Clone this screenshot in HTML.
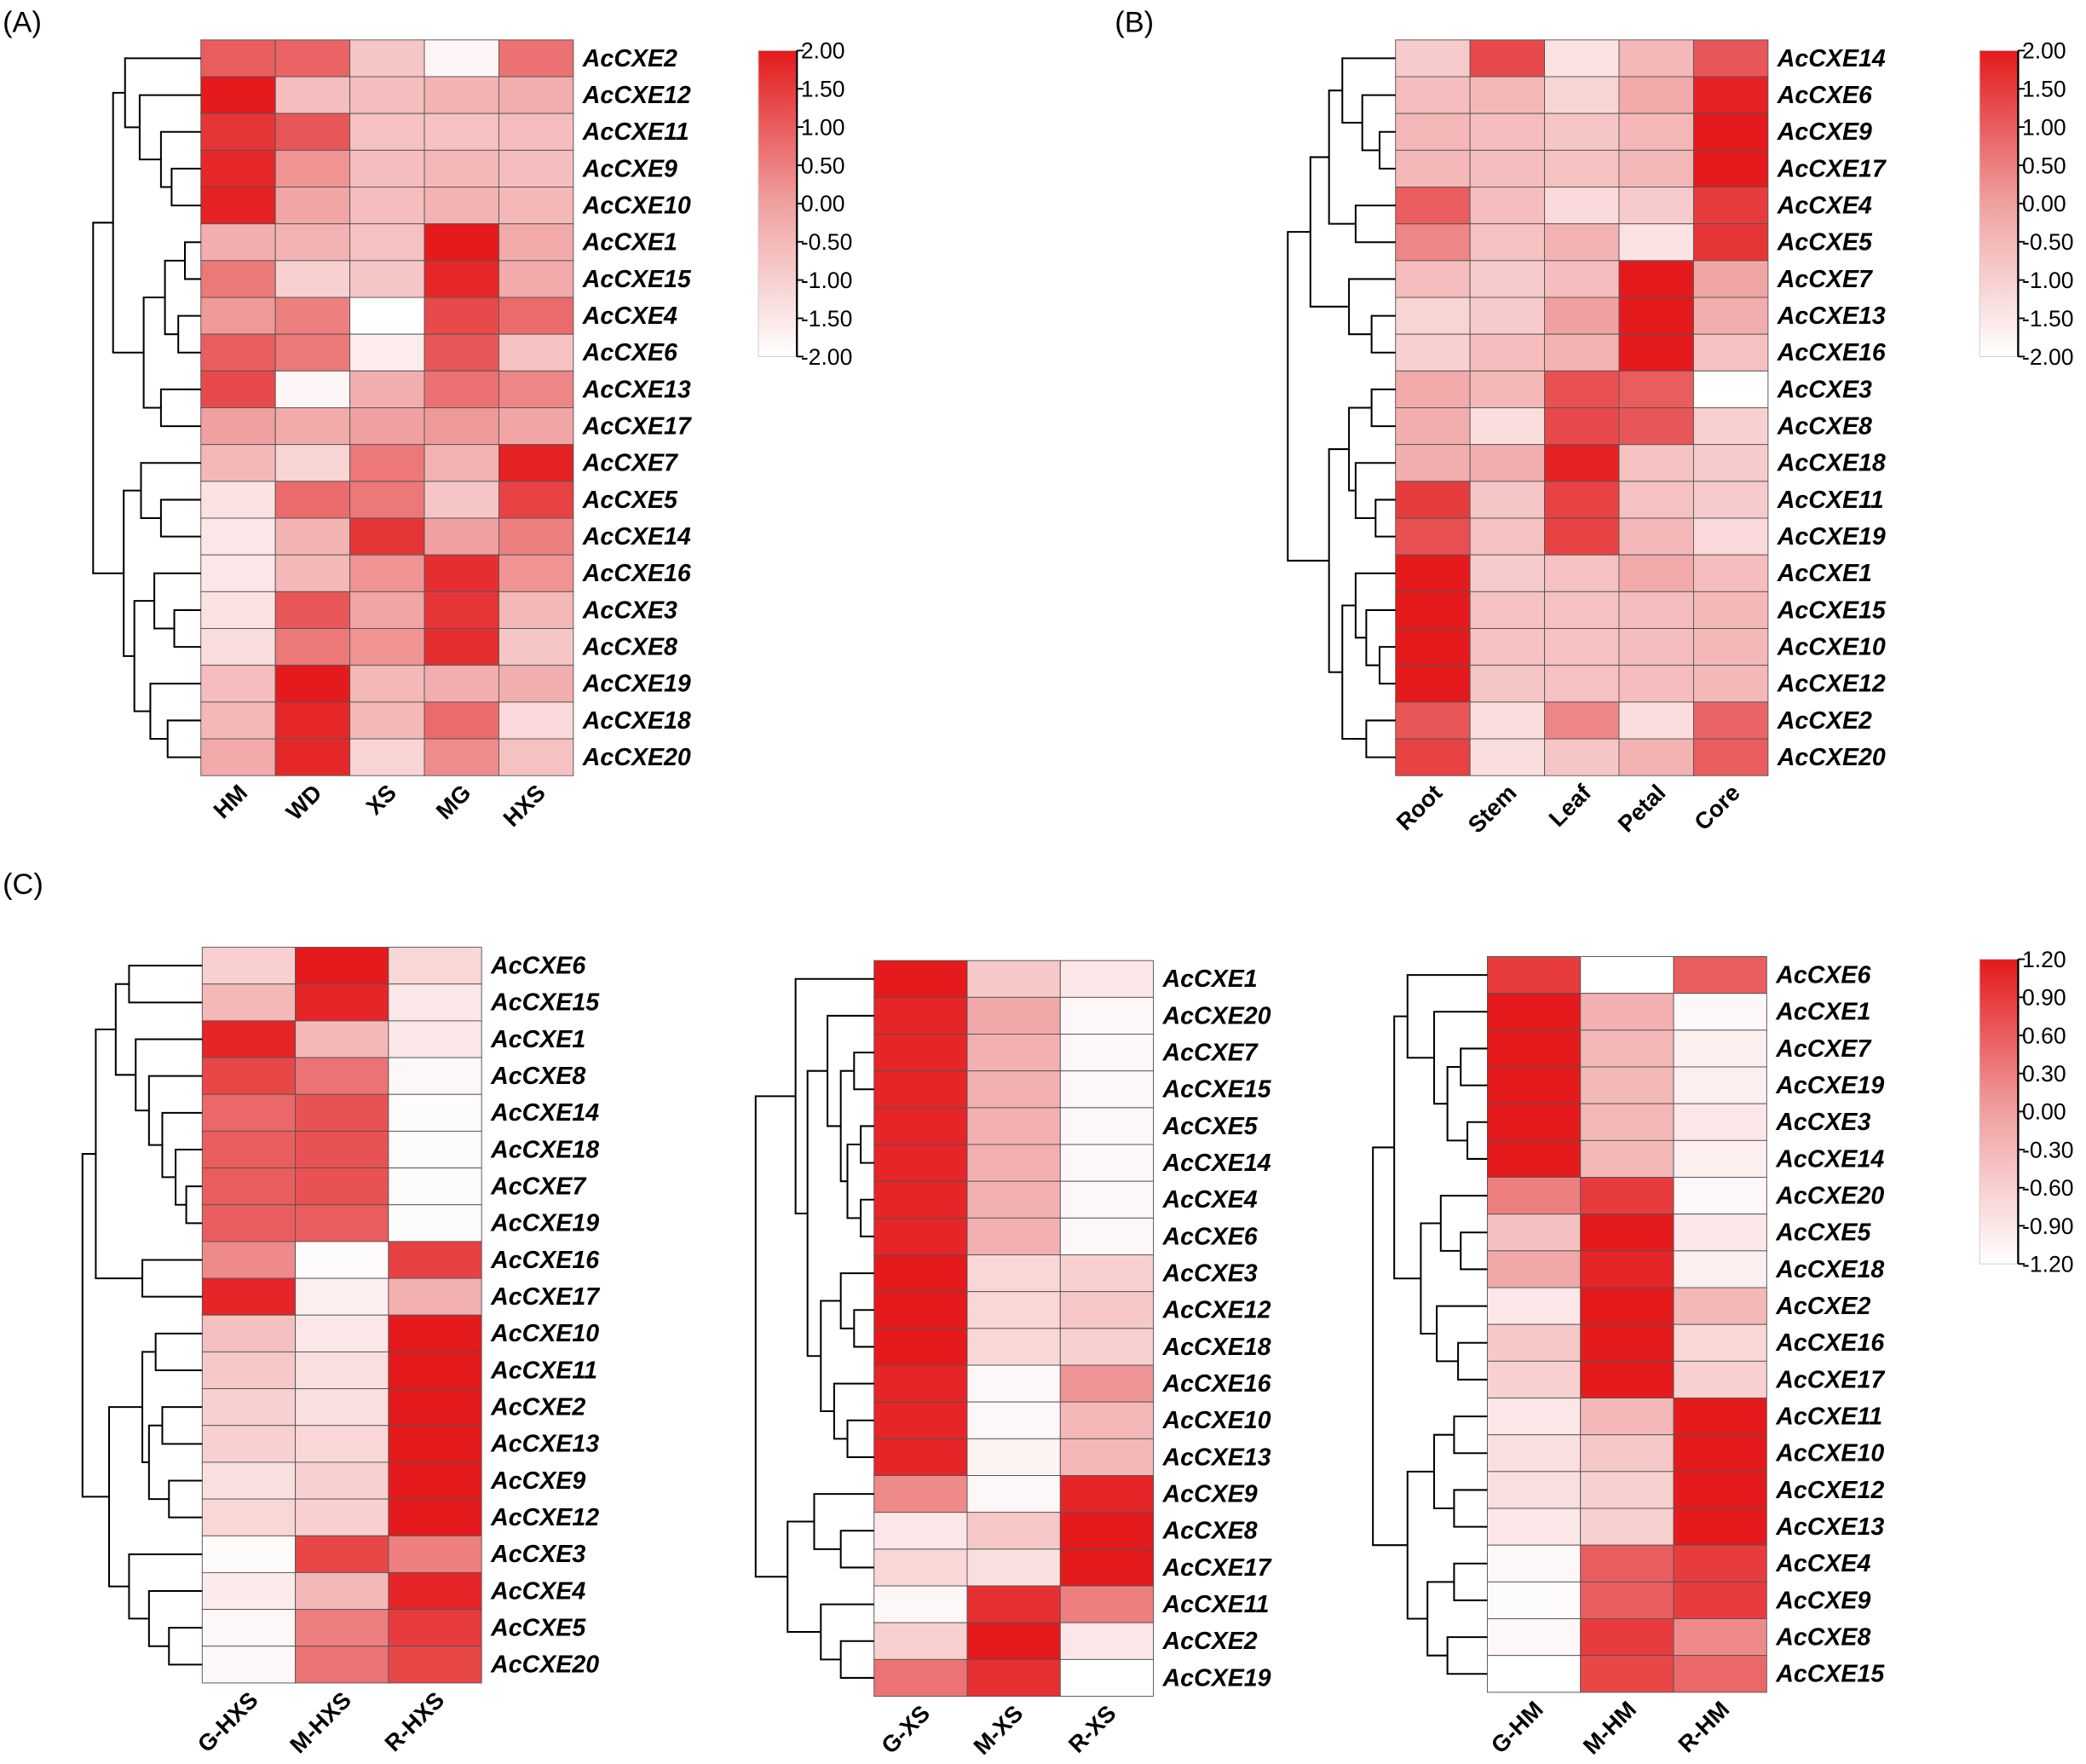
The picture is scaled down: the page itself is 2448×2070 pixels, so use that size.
<!DOCTYPE html>
<html><head><meta charset="utf-8"><title>AcCXE heatmaps</title>
<style>
html,body{margin:0;padding:0;background:#fff;}
svg{display:block;}
text{font-family:"Liberation Sans",Arial,sans-serif;}
</style></head>
<body>
<svg id="fig" width="2448" height="2070" viewBox="0 0 1568 1325.9" preserveAspectRatio="none" xmlns="http://www.w3.org/2000/svg"></svg>
<script>
// ---- Panel A data ----
const rowsA = ["AcCXE2","AcCXE12","AcCXE11","AcCXE9","AcCXE10","AcCXE1","AcCXE15","AcCXE4","AcCXE6","AcCXE13","AcCXE17","AcCXE7","AcCXE5","AcCXE14","AcCXE16","AcCXE3","AcCXE8","AcCXE19","AcCXE18","AcCXE20"];
const colsA = ["HM","WD","XS","MG","HXS"];
const valsA = [
[1.0,0.9,-0.8,-1.8,0.7],[2.0,-0.6,-0.6,-0.4,-0.3],[1.6,1.1,-0.7,-0.7,-0.6],[1.8,0.2,-0.6,-0.5,-0.6],[1.9,-0.1,-0.6,-0.4,-0.5],
[-0.3,-0.4,-0.7,2.0,-0.2],[0.6,-1.0,-0.8,1.8,-0.2],[0.1,0.5,-2.0,1.3,0.8],[1.0,0.6,-1.6,1.1,-0.7],[1.3,-1.8,-0.3,0.7,0.4],
[0.0,-0.2,0.0,0.1,-0.1],[-0.5,-1.1,0.6,-0.4,1.9],[-1.4,0.8,0.6,-0.8,1.4],[-1.5,-0.4,1.6,0.0,0.5],[-1.5,-0.5,0.2,1.7,0.2],
[-1.4,1.1,-0.1,1.6,-0.5],[-1.3,0.6,0.2,1.7,-0.8],[-0.6,2.0,-0.5,-0.3,-0.3],[-0.5,1.8,-0.5,0.8,-1.2],[-0.2,1.8,-1.1,0.3,-0.7]];
// ---- Panel B data ----
const rowsB = ["AcCXE14","AcCXE6","AcCXE9","AcCXE17","AcCXE4","AcCXE5","AcCXE7","AcCXE13","AcCXE16","AcCXE3","AcCXE8","AcCXE18","AcCXE11","AcCXE19","AcCXE1","AcCXE15","AcCXE10","AcCXE12","AcCXE2","AcCXE20"];
const colsB = ["Root","Stem","Leaf","Petal","Core"];
const valsB = [
[-0.9,1.3,-1.4,-0.5,1.1],[-0.6,-0.5,-1.1,-0.2,1.9],[-0.5,-0.6,-0.8,-0.5,2.0],[-0.5,-0.6,-0.7,-0.5,2.0],[1.0,-0.6,-1.2,-0.9,1.5],
[0.4,-0.7,-0.4,-1.4,1.6],[-0.6,-0.9,-0.6,2.0,-0.1],[-1.1,-0.9,0.0,2.0,-0.3],[-1.0,-0.6,-0.4,2.0,-0.7],[-0.2,-0.5,1.2,1.0,-2.0],
[-0.3,-1.3,1.3,1.1,-1.0],[-0.3,-0.3,1.9,-0.7,-0.9],[1.5,-0.8,1.4,-0.7,-0.9],[1.2,-0.7,1.4,-0.5,-1.2],[2.0,-0.9,-0.7,-0.2,-0.6],
[2.0,-0.7,-0.7,-0.6,-0.5],[2.0,-0.7,-0.7,-0.6,-0.5],[2.0,-0.8,-0.7,-0.6,-0.5],[1.1,-1.3,0.4,-1.3,0.9],[1.4,-1.3,-0.8,-0.4,1.0]];
// ---- Panel C1 data ----
const rowsC1 = ["AcCXE6","AcCXE15","AcCXE1","AcCXE8","AcCXE14","AcCXE18","AcCXE7","AcCXE19","AcCXE16","AcCXE17","AcCXE10","AcCXE11","AcCXE2","AcCXE13","AcCXE9","AcCXE12","AcCXE3","AcCXE4","AcCXE5","AcCXE20"];
const colsC1 = ["G-HXS","M-HXS","R-HXS"];
const valsC1 = [
[-0.6,1.2,-0.7],[-0.3,1.1,-0.9],[1.1,-0.3,-0.9],[0.8,0.4,-1.1],[0.5,0.7,-1.15],[0.6,0.7,-1.15],[0.6,0.7,-1.15],[0.6,0.6,-1.15],
[0.2,-1.15,0.85],[1.1,-1.0,-0.2],[-0.4,-0.9,1.2],[-0.5,-0.8,1.2],[-0.6,-0.8,1.2],[-0.6,-0.7,1.2],[-0.8,-0.6,1.2],[-0.7,-0.6,1.2],
[-1.15,0.8,0.3],[-0.95,-0.3,1.1],[-1.1,0.3,0.9],[-1.1,0.4,0.8]];
// ---- Panel C2 data ----
const rowsC2 = ["AcCXE1","AcCXE20","AcCXE7","AcCXE15","AcCXE5","AcCXE14","AcCXE4","AcCXE6","AcCXE3","AcCXE12","AcCXE18","AcCXE16","AcCXE10","AcCXE13","AcCXE9","AcCXE8","AcCXE17","AcCXE11","AcCXE2","AcCXE19"];
const colsC2 = ["G-XS","M-XS","R-XS"];
const valsC2 = [
[1.2,-0.5,-0.9],[1.1,-0.1,-1.1],[1.1,-0.2,-1.1],[1.1,-0.2,-1.1],[1.1,-0.2,-1.1],[1.1,-0.2,-1.1],[1.1,-0.2,-1.1],[1.1,-0.2,-1.1],
[1.2,-0.7,-0.6],[1.2,-0.7,-0.5],[1.2,-0.7,-0.6],[1.1,-1.1,0.1],[1.1,-1.1,-0.3],[1.1,-1.05,-0.3],[0.2,-1.1,1.1],[-0.9,-0.5,1.2],
[-0.7,-0.8,1.2],[-1.1,1.0,0.3],[-0.6,1.2,-0.9],[0.4,1.0,-1.2]];
// ---- Panel C3 data ----
const rowsC3 = ["AcCXE6","AcCXE1","AcCXE7","AcCXE19","AcCXE3","AcCXE14","AcCXE20","AcCXE5","AcCXE18","AcCXE2","AcCXE16","AcCXE17","AcCXE11","AcCXE10","AcCXE12","AcCXE13","AcCXE4","AcCXE9","AcCXE8","AcCXE15"];
const colsC3 = ["G-HM","M-HM","R-HM"];
const valsC3 = [
[0.9,-1.2,0.6],[1.2,-0.2,-1.1],[1.2,-0.3,-1.0],[1.2,-0.3,-1.0],[1.2,-0.3,-0.9],[1.2,-0.3,-1.0],[0.3,0.9,-1.1],[-0.4,1.2,-0.9],
[-0.1,1.1,-1.0],[-0.9,1.2,-0.3],[-0.5,1.2,-0.7],[-0.6,1.2,-0.6],[-0.9,-0.3,1.2],[-0.8,-0.5,1.2],[-0.8,-0.6,1.2],[-0.9,-0.6,1.2],
[-1.1,0.6,0.9],[-1.15,0.6,0.9],[-1.1,0.9,0.2],[-1.2,0.8,0.5]];
// colorbar ticks
const ticksAB = [2.00,1.50,1.00,0.50,0.00,-0.50,-1.00,-1.50,-2.00];
const ticksC = [1.20,0.90,0.60,0.30,0.00,-0.30,-0.60,-0.90,-1.20];
// dendrograms: [height, left, right] or leaf index
const treeA = [81,[66,[57,0,[46,1,[30,2,[22,3,4]]]],[43,[27,[12,5,6],[17,7,8]],[30,9,10]]],[58,[45,11,[30,12,13]],[50,[35,14,[20,15,16]],[38,17,[25,18,19]]]]];
const treeB = [81,[64,[50,[40,0,[25,1,[12,2,3]]],[30,4,5]],[35,6,[18,7,8]]],[50,[35,[18,9,10],[30,11,[15,12,13]]],[40,[30,14,[22,15,[12,16,17]]],[22,18,19]]]];
const treeC1 = [90,[80,[65,[55,0,1],[50,2,[40,3,[30,4,[20,5,[12,6,7]]]]]],[45,8,9]],[70,[45,[35,10,11],[40,[30,12,13],[25,14,15]]],[55,16,[40,17,[25,18,19]]]]];
const treeC2 = [89,[59,0,[50,[35,1,[25,[15,2,3],[20,[10,4,5],[10,6,7]]]],[40,[25,8,[15,9,10]],[30,11,[20,12,13]]]]],[65,[45,14,[25,15,16]],[40,17,[25,18,19]]]];
const treeC3 = [86,[70,[60,0,[40,1,[30,[20,2,3],[15,4,5]]]],[50,[35,6,[20,7,8]],[38,9,[22,10,11]]]],[60,[40,[25,12,13],[25,14,15]],[45,[25,16,17],[30,18,19]]]];

const NS="http://www.w3.org/2000/svg";
const svg=document.getElementById('fig');
function mk(tag,attrs,parent){const e=document.createElementNS(NS,tag);for(const k in attrs)e.setAttribute(k,attrs[k]);(parent||svg).appendChild(e);return e;}
function color(v,min,max){
  let t=(v-min)/(max-min);t=Math.max(0,Math.min(1,t));
  let c;
  if(t<0.5){const u=t/0.5;c=[255+(240-255)*u,255+(160-255)*u,255+(160-255)*u];}
  else{const u=(t-0.5)/0.5;c=[240+(228-240)*u,160+(26-160)*u,160+(28-160)*u];}
  return `rgb(${c.map(Math.round).join(',')})`;
}
function heat(id,rows,cols,vals,tree,left,top,bottom,cw,min,max){
  const g=mk('g',{});
  
  
  const rh=(bottom-top)/rows.length;
  rows.forEach((r,i)=>{
    cols.forEach((c,j)=>{
      const rc=mk('rect',{x:left+j*cw,y:top+i*rh,width:cw,height:rh,fill:color(vals[i][j],min,max),stroke:'#555','stroke-width':0.6},g);
      
      
    });
    const t=mk('text',{x:left+cols.length*cw+7,y:top+(i+0.5)*rh+6,'font-size':18.3,'font-weight':'bold','font-style':'italic',fill:'#000'},g);
    t.textContent=r;
    
    
  });
  cols.forEach((c,j)=>{
    const x=left+(j+0.5)*cw+8,y=bottom+14;
    const t=mk('text',{x:x,y:y,'font-size':17.5,'font-weight':'bold','text-anchor':'end',transform:`rotate(-45 ${x} ${y})`},g);
    t.textContent=c;
    
    
  });
  const dg=mk('g',{stroke:'#000','stroke-width':1.3,fill:'none'},g);
  
  
  function draw(n){
    if(typeof n==='number')return {x:left,y:top+(n+0.5)*rh};
    const a=draw(n[1]),b=draw(n[2]);const x=left-n[0];
    mk('path',{d:`M${a.x},${a.y}H${x}V${b.y}H${b.x}`},dg);
    return {x:x,y:(a.y+b.y)/2};
  }
  draw(tree);
}
function cbar(id,x,top,bottom,ticks){
  const g=mk('g',{});
  
  
  const gid='grad-'+id;
  const defs=mk('defs',{},g);
  const lg=mk('linearGradient',{id:gid,x1:0,y1:0,x2:0,y2:1},defs);
  mk('stop',{offset:'0','stop-color':'rgb(228,26,28)'},lg);
  mk('stop',{offset:'0.5','stop-color':'rgb(240,160,160)'},lg);
  mk('stop',{offset:'1','stop-color':'#fff'},lg);
  mk('rect',{x:x,y:top,width:29,height:bottom-top,fill:`url(#${gid})`,stroke:'#ccc','stroke-width':0.6},g);
  mk('line',{x1:x+29,y1:top,x2:x+29,y2:bottom,stroke:'#000','stroke-width':1.5},g);
  ticks.forEach((tv,i)=>{
    const y=top+(bottom-top)*i/(ticks.length-1);
    mk('line',{x1:x+29,y1:y,x2:x+34,y2:y,stroke:'#000','stroke-width':1.2},g);
    const t=mk('text',{x:x+32,y:y+6,'font-size':17},g);
    t.textContent=tv.toFixed(2);
  });
}
function label(txt,x,y){const t=mk('text',{x:x,y:y,'font-size':22});t.textContent=txt;
  
  }

label('(A)',2,24);label('(B)',838,24);label('(C)',2,672);
heat('panel-a',rowsA,colsA,valsA,treeA,151,30,583,56,-2,2);
cbar('colorbar-a',570,38,268,ticksAB);
heat('panel-b',rowsB,colsB,valsB,treeB,1049,30,583,56,-2,2);
cbar('colorbar-b',1488,38,268,ticksAB);
heat('panel-c1',rowsC1,colsC1,valsC1,treeC1,152,712,1265,70,-1.2,1.2);
heat('panel-c2',rowsC2,colsC2,valsC2,treeC2,657,722,1275,70,-1.2,1.2);
heat('panel-c3',rowsC3,colsC3,valsC3,treeC3,1118,719,1272,70,-1.2,1.2);
cbar('colorbar-c',1488,721,950,ticksC);
</script>
</body></html>
